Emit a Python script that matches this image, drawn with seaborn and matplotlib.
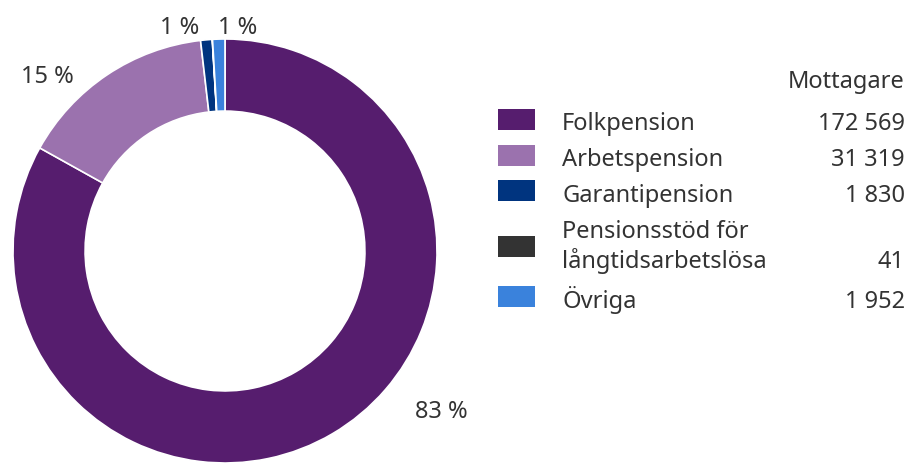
import matplotlib
matplotlib.use("Agg")
import matplotlib.pyplot as plt
import seaborn as sns
from matplotlib.patches import Rectangle

# ---- data ----
categories = ["Folkpension", "Arbetspension", "Garantipension",
              "Pensionsstöd för\nlångtidsarbetslösa", "Övriga"]
recipients = [172569, 31319, 1830, 41, 1952]
recipient_labels = ["172 569", "31 319", "1 830", "41", "1 952"]
legend_title = "Mottagare"
colors = ["#561d6e", "#9b72ae", "#00347f", "#333333", "#3a82dc"]

sns.set_theme(style="white")
plt.rcParams["font.family"] = ["Noto Sans", "DejaVu Sans"]
text_color = "#333333"
fs = 17

W, H = 911, 463
fig = plt.figure(figsize=(W / 100, H / 100), dpi=100)
ax = fig.add_axes([0, 0, 1, 1])

cx, cy, R = 225, 212, 212
wedges, _ = ax.pie(recipients, colors=sns.color_palette(colors),
                   startangle=90, counterclock=False,
                   center=(cx, cy), radius=R,
                   wedgeprops=dict(width=R * 0.34, edgecolor="white", linewidth=1.2))
ax.set_xlim(0, W)
ax.set_ylim(0, H)
ax.set_aspect("equal")
ax.axis("off")

total = sum(recipients)
pct = [f"{round(v / total * 100):.0f} %" for v in recipients]

# percentage labels (image coords: y = baseline from top)
label_pos = {0: (441, 418), 1: (47, 83), 2: (180, 34), 4: (238, 34)}
for i, (x, y) in label_pos.items():
    ax.text(x, H - y, pct[i], ha="center", va="baseline", fontsize=fs, color=text_color)

# legend
sq_x, sq_w, sq_h = 498, 37, 21
txt_x, val_x = 562, 905
ax.text(val_x, H - 88, legend_title, ha="right", va="baseline", fontsize=fs, color=text_color)
row_y = [119, 155, 190, 246, 296]
base_y = [130, 165.5, 201.5, 268.5, 308]
for i, cat in enumerate(categories):
    y = row_y[i]
    ax.add_patch(Rectangle((sq_x, H - y - sq_h / 2), sq_w, sq_h,
                           facecolor=colors[i], edgecolor="none"))
    b = base_y[i]
    if "\n" in cat:
        l1, l2 = cat.split("\n")
        ax.text(txt_x, H - 237.5, l1, ha="left", va="baseline", fontsize=fs, color=text_color)
        ax.text(txt_x, H - b, l2, ha="left", va="baseline", fontsize=fs, color=text_color)
    else:
        ax.text(txt_x, H - b, cat, ha="left", va="baseline", fontsize=fs, color=text_color)
    ax.text(val_x, H - b, recipient_labels[i], ha="right", va="baseline",
            fontsize=fs, color=text_color)

fig.savefig("out.png", dpi=100, facecolor="white")
